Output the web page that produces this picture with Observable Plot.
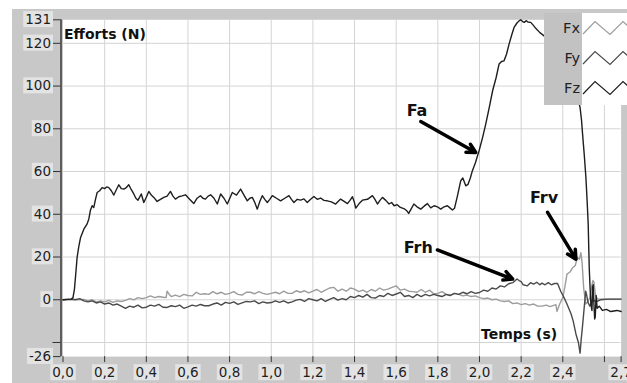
<!DOCTYPE html>
<html><head><meta charset="utf-8">
<script src="https://cdn.jsdelivr.net/npm/d3@7"></script>
<script src="https://cdn.jsdelivr.net/npm/@observablehq/plot@0.6"></script>
<style>
body{margin:0;background:#fff;}
#wrap{position:relative;width:627px;height:383px;overflow:hidden;font-family:"DejaVu Sans",sans-serif;}
#bg{position:absolute;left:12px;top:9px;right:0;bottom:0;background:#c8c8c8;}
#chart{position:absolute;left:0;top:0;}
#legend{position:absolute;left:544px;top:13px;width:83px;height:92px;display:flex;}
#legend .lab{width:38px;background:#c2c2c2;display:flex;flex-direction:column;}
#legend .lab div{height:30px;line-height:30px;text-align:right;font-size:14.5px;color:#222;padding-right:2px;}
#legend .sw{flex:1;background:#fff;}
</style></head>
<body><div id="wrap"><div id="bg"></div><div id="chart"></div><div id="legend"></div></div>
<script>
// Time (s) / force (N) pairs
const fz = [[0,0],[0.02,0.2],[0.04,0.3],[0.048,1],[0.055,5],[0.062,13],[0.068,20],[0.076,25],[0.084,29],[0.1,33],[0.116,35.5],[0.124,37.8],[0.132,42],[0.14,44],[0.148,43.2],[0.156,47],[0.164,50.2],[0.176,51],[0.188,52.5],[0.2,52],[0.21,52.8],[0.22,52.5],[0.232,51],[0.244,49],[0.256,51.5],[0.268,53.8],[0.28,52],[0.292,51.8],[0.304,52.5],[0.316,53.8],[0.328,51.5],[0.34,49.5],[0.35,47.5],[0.36,46.6],[0.368,48],[0.376,49.5],[0.388,45.5],[0.4,48],[0.412,50.7],[0.424,49],[0.436,47.9],[0.452,46],[0.468,47],[0.484,47.9],[0.5,48.5],[0.516,50.7],[0.528,48.5],[0.54,47.1],[0.556,48.2],[0.572,48.6],[0.588,49.1],[0.608,47],[0.628,45],[0.644,47.5],[0.66,48.7],[0.672,47.5],[0.684,47.1],[0.697,48.5],[0.709,49.1],[0.725,47.5],[0.741,44.8],[0.757,49.5],[0.773,47.5],[0.789,44.8],[0.801,47.5],[0.813,50.2],[0.833,49],[0.853,51.8],[0.869,49],[0.885,46.3],[0.897,47.5],[0.909,47.9],[0.921,45.5],[0.933,42.4],[0.945,46],[0.957,48.7],[0.969,47],[0.981,45.5],[0.993,47],[1.005,48.7],[1.025,47.5],[1.045,46.3],[1.065,47.5],[1.085,48.7],[1.097,47],[1.109,45.5],[1.125,47],[1.141,46.6],[1.157,47.2],[1.173,45.5],[1.189,47],[1.205,48.3],[1.221,47],[1.237,47.6],[1.253,46.5],[1.269,46.3],[1.289,45.8],[1.309,44.8],[1.321,46],[1.333,47.1],[1.35,46],[1.366,45],[1.378,46.5],[1.39,48.2],[1.398,46],[1.406,42.9],[1.422,45],[1.438,46.6],[1.462,47],[1.486,48.7],[1.498,47],[1.51,44.8],[1.522,46.5],[1.534,47.9],[1.55,46.5],[1.566,44.8],[1.578,45.5],[1.59,44],[1.605,44.5],[1.62,43.2],[1.64,42.5],[1.652,41.5],[1.66,40.4],[1.672,42.5],[1.685,44.8],[1.7,43.5],[1.718,42.4],[1.734,43.8],[1.75,45],[1.766,43],[1.782,44],[1.798,43.5],[1.814,42.4],[1.83,43.5],[1.846,44],[1.858,43],[1.87,42],[1.88,42.8],[1.895,49],[1.91,55.7],[1.92,57],[1.934,53.3],[1.945,54],[1.956,57],[1.966,60.4],[1.98,64],[1.998,69.7],[2.015,76],[2.03,82.2],[2.047,90],[2.063,97.8],[2.08,104],[2.094,110.3],[2.106,111.5],[2.118,111.8],[2.13,115],[2.142,119.6],[2.155,124],[2.166,127.4],[2.18,129.5],[2.19,130.5],[2.198,131],[2.207,130.2],[2.215,129.8],[2.224,130.6],[2.232,130],[2.246,129.8],[2.258,128.5],[2.27,127],[2.29,125],[2.31,123.5],[2.33,122],[2.35,120],[2.375,117],[2.4,113],[2.42,109],[2.44,104],[2.46,98],[2.475,93],[2.483,90],[2.49,84],[2.495,77.5],[2.503,68],[2.511,57.2],[2.517,46],[2.522,35.4],[2.527,15],[2.531,5.8],[2.535,-2],[2.54,-5],[2.543,6],[2.546,7],[2.55,-3],[2.553,-9],[2.556,-8],[2.56,2],[2.565,-4],[2.575,-3],[2.59,-5],[2.61,-4.5],[2.63,-5.5],[2.66,-5],[2.68,-5.5]];
const fy = [[0,0],[0.03,0.2],[0.06,0],[0.08,0.5],[0.1,-0.5],[0.12,-1],[0.14,-0.5],[0.16,-1.5],[0.18,-1],[0.2,-2],[0.22,-1.5],[0.24,-2.5],[0.26,-2],[0.28,-3],[0.3,-4],[0.32,-3],[0.34,-3.5],[0.36,-2.5],[0.38,-3.8],[0.4,-3.5],[0.42,-2.5],[0.44,-3],[0.46,-2.2],[0.48,-3.5],[0.5,-3.6],[0.52,-2.8],[0.54,-3.2],[0.56,-2.5],[0.58,-4],[0.6,-3.3],[0.62,-2.5],[0.64,-3],[0.66,-2.2],[0.68,-2.8],[0.7,-2.8],[0.72,-2],[0.74,-1.5],[0.76,-2.5],[0.78,-1.2],[0.8,-1.7],[0.82,-1],[0.84,-2.2],[0.86,-1.5],[0.88,-0.8],[0.9,-1],[0.92,-0.5],[0.94,-1.8],[0.96,-1],[0.98,-1.5],[1.0,-1.3],[1.02,-0.5],[1.04,-1.2],[1.06,-0.5],[1.08,-1.5],[1.1,-1],[1.12,-0.2],[1.14,0.2],[1.16,-0.8],[1.18,0.5],[1.2,0],[1.22,-0.5],[1.24,0.5],[1.26,-0.8],[1.28,0.2],[1.3,1],[1.32,-0.2],[1.34,0.5],[1.36,0],[1.38,1.5],[1.4,1],[1.42,2],[1.44,1.2],[1.46,2.5],[1.48,1],[1.5,0.8],[1.52,2],[1.54,1.5],[1.56,3],[1.58,2],[1.6,2.7],[1.62,3.5],[1.64,1.5],[1.66,2],[1.68,1],[1.7,2.5],[1.72,1.5],[1.74,2.5],[1.76,1.8],[1.78,2.5],[1.8,2],[1.82,1.5],[1.84,2.5],[1.86,2],[1.88,3],[1.9,2.5],[1.92,3.5],[1.94,2.8],[1.96,3.8],[1.98,3],[2.0,3.4],[2.02,4.5],[2.04,4],[2.06,5.5],[2.08,5],[2.1,6.5],[2.12,6],[2.14,7.5],[2.16,8],[2.18,9.7],[2.19,9],[2.2,8.5],[2.21,7],[2.23,6.5],[2.245,8],[2.26,7.3],[2.275,8.2],[2.29,7],[2.3,7.8],[2.315,7],[2.33,8],[2.345,7],[2.36,7.6],[2.375,7.6],[2.39,4],[2.406,1],[2.42,-2],[2.44,-6.7],[2.45,-10],[2.463,-16],[2.475,-20],[2.483,-25],[2.488,-19],[2.495,-12],[2.5,-6.7],[2.51,4],[2.515,2],[2.52,-1],[2.53,-3],[2.545,0],[2.56,-1],[2.58,0],[2.62,0.3],[2.68,0.3]];
const fx = [[0,0],[0.03,0.2],[0.05,0.3],[0.07,0],[0.1,0.2],[0.12,-0.5],[0.14,0],[0.16,-1],[0.18,-0.5],[0.2,-1],[0.22,-0.3],[0.24,-1.2],[0.26,-0.5],[0.28,-0.8],[0.3,-0.3],[0.32,0.5],[0.34,0],[0.36,1],[0.38,0.5],[0.4,1],[0.42,1.8],[0.44,1],[0.46,1.5],[0.48,1.2],[0.495,1],[0.5,4],[0.51,2.5],[0.52,1.5],[0.54,2.2],[0.56,1.5],[0.58,2.5],[0.6,2],[0.62,1.8],[0.64,3.5],[0.66,2.5],[0.68,2.8],[0.7,2.5],[0.72,3.8],[0.74,2.8],[0.76,3.5],[0.78,2.5],[0.8,3],[0.82,3.8],[0.84,2.5],[0.86,2.2],[0.88,3.5],[0.9,3.5],[0.92,2.8],[0.94,3.8],[0.96,3],[0.98,2.5],[1.0,3],[1.02,3.5],[1.04,2.8],[1.06,4],[1.08,3],[1.1,3],[1.12,4.2],[1.14,3.5],[1.16,4.2],[1.18,3.2],[1.2,4],[1.22,4.8],[1.24,3.5],[1.26,4.5],[1.28,5.5],[1.3,5.8],[1.32,4],[1.34,5],[1.36,4],[1.38,5.5],[1.4,5],[1.42,3.8],[1.44,4.5],[1.46,3.5],[1.48,4.8],[1.5,4],[1.52,5.5],[1.54,4.5],[1.56,5],[1.58,5.8],[1.6,6.5],[1.62,4.5],[1.64,5],[1.66,4],[1.68,3.8],[1.7,3.5],[1.72,4.8],[1.74,3.5],[1.76,4.5],[1.78,2.8],[1.8,3],[1.82,3.8],[1.84,2.5],[1.86,2],[1.88,3],[1.9,2.5],[1.92,1.8],[1.94,2.2],[1.96,1.5],[1.98,1.8],[2.0,1],[2.02,0.5],[2.04,0.8],[2.06,0],[2.08,0.3],[2.1,-0.5],[2.12,-0.8],[2.14,-0.5],[2.16,-1.8],[2.18,-1.5],[2.2,-2.3],[2.22,-1.8],[2.24,-2.5],[2.26,-2],[2.28,-3],[2.3,-3],[2.32,-2.5],[2.34,-3.2],[2.36,-2.5],[2.367,-2.3],[2.372,-5.5],[2.385,-2],[2.4,1],[2.41,6],[2.42,12],[2.435,13],[2.447,15],[2.46,16],[2.47,19.8],[2.48,19],[2.487,22],[2.493,17],[2.5,5.8],[2.51,-2],[2.52,-1],[2.53,1],[2.54,7],[2.545,9],[2.55,8],[2.557,2],[2.567,0.3],[2.6,0.3],[2.68,0.3]];

const seriesNames = ["Fx", "Fy", "Fz"];
const seriesColors = ["#9c9c9c", "#4a4a4a", "#1e1e1e"];
const seriesData = [fx, fy, fz];

const xTicks = [0, 0.2, 0.4, 0.6, 0.8, 1.0, 1.2, 1.4, 1.6, 1.8, 2.0, 2.2, 2.4, 2.6, 2.68];
const xTickLabels = ["0,0","0,2","0,4","0,6","0,8","1,0","1,2","1,4","1,6","1,8","2,0","2,2","2,4","","2,7"];
const yTicks = [-26.6, -20, 0, 20, 40, 60, 80, 100, 120, 131];
const yTickLabels = ["-26", "", "0", "20", "40", "60", "80", "100", "120", "131"];
const xGrid = [0.2, 0.4, 0.6, 0.8, 1.0, 1.2, 1.4, 1.6, 1.8, 2.0, 2.2, 2.4, 2.6];
const yGrid = [-20, 0, 20, 40, 60, 80, 100, 120];

const annotations = [
  {label: "Fa", x: 1.70, y: 88.4, x1: 1.718, y1: 83.4, x2: 1.982, y2: 68.9},
  {label: "Frh", x: 1.706, y: 24.1, x1: 1.798, y1: 23.3, x2: 2.159, y2: 9.7},
  {label: "Frv", x: 2.31, y: 47.5, x1: 2.327, y1: 40.9, x2: 2.463, y2: 19}
];
const yTitle = {label: "Efforts (N)", x: 0.005, y: 124};
const xTitle = {label: "Temps (s)", x: 2.19, y: -16.4};

const rows = seriesData.flatMap((d, i) => d.map(([t, v]) => ({t, v, s: seriesNames[i]})));

const plot = Plot.plot({
  width: 627, height: 383,
  marginLeft: 62.5, marginRight: 6.4, marginTop: 19.3, marginBottom: 26.9,
  style: {background: "transparent", fontFamily: "DejaVu Sans", fontSize: "13.5px", color: "#1e1e1e"},
  x: {domain: [0, 2.68]},
  y: {domain: [-26.6, 131]},
  color: {domain: seriesNames, range: seriesColors},
  marks: [
    Plot.frame({fill: "white", stroke: null}),
    Plot.gridX(xGrid, {stroke: "#d4d4d4", strokeOpacity: 1}),
    Plot.gridY(yGrid, {stroke: "#d4d4d4", strokeOpacity: 1}),
    Plot.line(rows, {x: "t", y: "v", z: "s", stroke: "s", strokeWidth: 1.4}),
    Plot.axisX({ticks: xTicks, tickFormat: (d) => xTickLabels[xTicks.indexOf(d)], tickSize: 6, tickPadding: 5, stroke: "#333", label: null}),
    Plot.axisY({ticks: yTicks, tickFormat: (d) => yTickLabels[yTicks.indexOf(d)], tickSize: 8, tickPadding: 2, dx: -2, stroke: "#333", label: null}),
    Plot.ruleX([0], {dx: -2, stroke: "#3a3a3a", strokeWidth: 1.5}),
    Plot.text([yTitle], {x: "x", y: "y", text: "label", textAnchor: "start", fontWeight: "bold", fontSize: 14, fill: "#111"}),
    Plot.text([xTitle], {x: "x", y: "y", text: "label", textAnchor: "middle", fontWeight: "bold", fontSize: 14, fill: "#111"}),
    Plot.arrow(annotations, {x1: "x1", y1: "y1", x2: "x2", y2: "y2", stroke: "black", strokeWidth: 3.5, headLength: 4.2, headAngle: 55}),
    Plot.text(annotations, {x: "x", y: "y", text: "label", fontWeight: "bold", fontSize: 16, fill: "#111"})
  ]
});
document.getElementById("chart").appendChild(plot);

// light boxes behind the tick labels
plot.querySelectorAll('g[aria-label="x-axis tick label"] text, g[aria-label="y-axis tick label"] text').forEach(t => {
  if (!t.textContent) return;
  const b = t.getBBox();
  const r = document.createElementNS("http://www.w3.org/2000/svg", "rect");
  r.setAttribute("x", b.x - 2); r.setAttribute("y", b.y);
  r.setAttribute("width", b.width + 4); r.setAttribute("height", b.height);
  r.setAttribute("fill", "#e3e3e3");
  if (t.getAttribute("transform")) r.setAttribute("transform", t.getAttribute("transform"));
  t.parentNode.insertBefore(r, t);
});

// legend
const legend = document.getElementById("legend");
const lab = document.createElement("div"); lab.className = "lab";
const sw = document.createElement("div"); sw.className = "sw";
let svg = '<svg width="45" height="92">';
seriesNames.forEach((n, i) => {
  const d = document.createElement("div"); d.textContent = n; lab.appendChild(d);
  const c = 15 + i * 30;
  svg += `<polyline fill="none" stroke="${seriesColors[i]}" stroke-width="1.2" points="1,${c+6} 13,${c-6.5} 28,${c+6.5} 41,${c-6.5} 46,${c-2}"/>`;
});
svg += '</svg>';
sw.innerHTML = svg;
legend.appendChild(lab); legend.appendChild(sw);
</script>
</body></html>
